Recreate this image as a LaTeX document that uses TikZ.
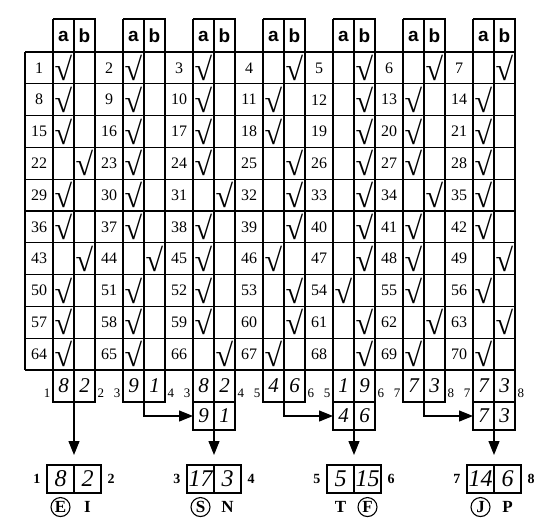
\documentclass[tikz,border=0pt]{standalone}
\usepackage{fontspec}
\setmainfont{Liberation Serif}
\setsansfont{Liberation Sans}
\usetikzlibrary{arrows.meta, positioning}

\begin{document}
\begin{tikzpicture}[x=1pt,y=-1pt,line width=1.2pt,
    num/.style={font=\fontsize{16}{16}\selectfont},
    tick/.style={font=\bfseries\fontsize{32}{32}\selectfont,inner sep=0pt},
    head/.style={font=\sffamily\bfseries\fontsize{19}{19}\selectfont},
    hand/.style={draw,outer sep=0pt,inner sep=0pt,minimum width=21pt,font=\itshape\fontsize{21}{21}\selectfont},
    lbl/.style={font=\fontsize{13}{13}\selectfont,inner sep=0pt},
    total/.style={draw,outer sep=0pt,inner sep=0pt,minimum width=27pt,minimum height=28pt,font=\itshape\fontsize{24}{24}\selectfont},
    side/.style={font=\bfseries\fontsize{14}{14}\selectfont,inner sep=0pt},
    letter/.style={font=\bfseries\fontsize{17}{17}\selectfont,inner sep=0pt,minimum size=19pt},
    ring/.style={letter,draw,circle,line width=1.1pt},
    arrow/.style={-{Triangle[width=11pt,length=14pt]}}]

  \useasboundingbox (0,0) rectangle (544,528);

  % grid and headers
  \foreach \r in {0,...,10}
    \draw (25,{52+31.8*\r}) -- (515,{52+31.8*\r});
  \foreach \g in {0,...,6} {
    \draw ({25+70*\g},52) -- ({25+70*\g},370);
    \draw ({53+70*\g},19) -- ({53+70*\g},370);
    \draw ({74+70*\g},19) -- ({74+70*\g},370);
    \draw ({53+70*\g},19) -- ({95+70*\g},19) -- ({95+70*\g},52);
    \node[head] (a\g) at ({63.5+70*\g},36) {a};
    \node[head] (b\g) at ({84.5+70*\g},36) {b};
  }
  \draw (515,52) -- (515,370);

  % 0 = column a, 1 = column b
  \foreach \r/\marks in {0/{0,0,0,1,1,1,1}, 1/{0,0,0,0,1,0,0}, 2/{0,0,0,0,1,0,0},
      3/{1,0,0,1,1,0,0}, 4/{0,0,1,1,1,1,0}, 5/{0,0,0,1,1,0,0}, 6/{1,1,0,0,1,0,1},
      7/{0,0,0,1,0,0,0}, 8/{0,0,0,1,1,1,1}, 9/{0,0,1,0,1,0,0}}
    \foreach \m [count=\g from 0] in \marks {
      \pgfmathtruncatemacro\k{7*\r+\g+1}
      \node[num] (n\k) at ({39+70*\g},{67.9+31.8*\r}) {\k};
      \node[tick] (c\k) at ({63.5+21*\m+70*\g},{67.9+31.8*\r}) {√};
    }

  % column sums
  \foreach \g/\va/\vb/\lo/\hi in {0/8/2/1/2, 1/9/1/3/4, 2/8/2/3/4, 3/4/6/5/6,
      4/1/9/5/6, 5/7/3/7/8, 6/7/3/7/8} {
    \node[hand,minimum height=32pt] (sa\g) at ({63.5+70*\g},386) {\va};
    \node[hand,minimum height=32pt,right=0pt of sa\g] (sb\g) {\vb};
    \node[lbl,anchor=south east] (sl\g) at ([shift={(-2pt,4pt)}]sa\g.south west) {\lo};
    \node[lbl,anchor=south west] (sr\g) at ([shift={(2pt,4pt)}]sb\g.south east) {\hi};
  }
  \foreach \g/\p/\va/\vb in {2/1/9/1, 4/3/4/6, 6/5/7/3} {
    \node[hand,minimum height=28pt,below=0pt of sa\g] (sc\g) {\va};
    \node[hand,minimum height=28pt,right=0pt of sc\g] (sd\g) {\vb};
    \draw[arrow] (sa\p.south east) |- (sc\g.west);
  }

  % totals
  \foreach \k/\g/\s/\va/\vb/\lo/\hi in {0/0/sa/8/2/1/2, 1/2/sc/17/3/3/4,
      2/4/sc/5/15/5/6, 3/6/sc/14/6/7/8} {
    \node[total] (fa\k) at ({60.5+70*\g},479) {\va};
    \node[total,right=0pt of fa\k] (fb\k) {\vb};
    \node[side,left=6pt of fa\k] (fl\k) {\lo};
    \node[side,right=6pt of fb\k] (fr\k) {\hi};
    \draw[arrow,shorten >=10pt] (\s\g.south east) -- (fa\k.north east);
  }

  \node[ring,below=4pt of fa0] (E) {E};
  \node[letter,below=4pt of fb0] (I) {I};
  \node[ring,below=4pt of fa1] (S) {S};
  \node[letter,below=4pt of fb1] (N) {N};
  \node[letter,below=4pt of fa2] (T) {T};
  \node[ring,below=4pt of fb2] (F) {F};
  \node[ring,below=4pt of fa3] (J) {J};
  \node[letter,below=4pt of fb3] (P) {P};
\end{tikzpicture}
\end{document}
